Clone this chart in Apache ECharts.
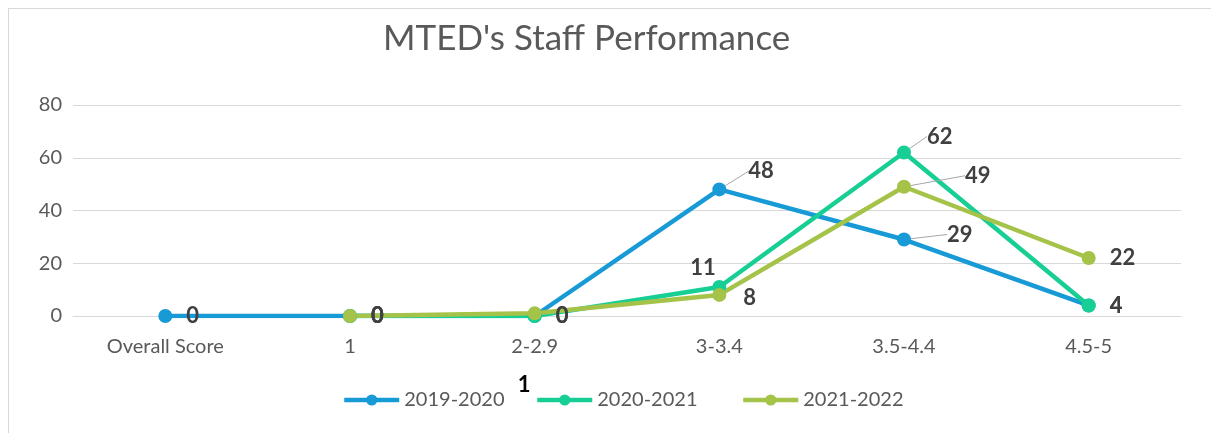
<!DOCTYPE html>
<html>
<head>
<meta charset="utf-8">
<script src="https://cdn.jsdelivr.net/npm/echarts@6/dist/echarts.min.js"></script>
<style>
  html, body { margin: 0; padding: 0; background: #fff; }
  #frame { position: absolute; left: 8px; top: 8px; width: 1230px; height: 450px; border: 1px solid #d9d9d9; }
  #chart { position: absolute; left: 0; top: 0; width: 1211px; height: 433px; }
</style>
</head>
<body>
<div id="frame"></div>
<div id="chart"></div>
<script>
  // categories on the x axis
  var categories = ['Overall Score', '1', '2-2.9', '3-3.4', '3.5-4.4', '4.5-5'];
  // series values
  var s2019 = [0, 0, 0, 48, 29, 4];
  var s2020 = [null, 0, 0, 11, 62, 4];
  var s2021 = [null, 0, 1, 8, 49, 22];
  var yTicks = [0, 20, 40, 60, 80];

  var colors = ['#179ad6', '#17cf95', '#a5c249'];
  var font = 'Lato, "Open Sans", sans-serif';

  // moved data labels (Excel-style leader lines): series -> dataIndex -> shift
  var moved = {
    '2019-2020': { 3: { dx: 8, dy: -18, line: true }, 4: { dx: 22, dy: -5, line: true } },
    '2020-2021': { 3: { dx: -50, dy: -19 }, 4: { dx: 2, dy: -16, line: true } },
    '2021-2022': { 2: { dx: -38, dy: 72 }, 3: { dx: 3, dy: 3 }, 4: { dx: 40, dy: -11, line: true } }
  };

  function makeSeries(name, values, color) {
    return {
      name: name,
      type: 'line',
      data: values.map(function (v, i) {
        var item = { value: v };
        var m = moved[name] && moved[name][i];
        item.labelLine = { show: !!(m && m.line) };
        if (name === '2021-2022' && i === 2) {
          item.label = { color: '#000', fontSize: 22 };
        }
        return item;
      }),
      symbol: 'circle',
      symbolSize: 14,
      lineStyle: { width: 4.5, color: color },
      itemStyle: { color: color },
      label: {
        show: true,
        position: 'right',
        distance: 14,
        fontFamily: font,
        fontWeight: 'bold',
        fontSize: 22,
        color: '#404040'
      },
      labelLine: { show: true, lineStyle: { color: '#a6a6a6', width: 1 } },
      labelLayout: function (p) {
        var m = moved[name] && moved[name][p.dataIndex];
        if (!m) return {};
        return { dx: m.dx, dy: m.dy };
      }
    };
  }

  function legendItem(name, left) {
    return {
      data: [name],
      left: left,
      top: 385,
      itemWidth: 55,
      itemHeight: 14,
      lineStyle: { width: 4.5 },
      textStyle: { fontSize: 20, color: '#595959', fontFamily: font }
    };
  }

  var chart = echarts.init(document.getElementById('chart'));
  chart.setOption({
    animation: false,
    textStyle: { fontFamily: font },
    title: {
      text: "MTED's Staff Performance",
      left: 378,
      top: 16,
      textStyle: { fontFamily: font, fontWeight: 'normal', fontSize: 35, color: '#595959' }
    },
    legend: [
      legendItem('2019-2020', 337),
      legendItem('2020-2021', 530),
      legendItem('2021-2022', 736)
    ],
    grid: { left: 73, right: 30, top: 105, bottom: 117 },
    xAxis: {
      type: 'category',
      data: categories,
      boundaryGap: true,
      axisLine: { lineStyle: { color: '#d9d9d9', width: 1 } },
      axisTick: { show: false },
      axisLabel: { color: '#595959', fontSize: 20, margin: 21, fontFamily: font }
    },
    yAxis: {
      type: 'value',
      min: yTicks[0],
      max: yTicks[yTicks.length - 1],
      interval: 20,
      axisLine: { show: false },
      axisTick: { show: false },
      axisLabel: { color: '#595959', fontSize: 20, margin: 11, fontFamily: font },
      splitLine: { lineStyle: { color: '#d9d9d9', width: 1 } }
    },
    series: [
      makeSeries('2019-2020', s2019, colors[0]),
      makeSeries('2020-2021', s2020, colors[1]),
      makeSeries('2021-2022', s2021, colors[2])
    ]
  });
</script>
</body>
</html>
